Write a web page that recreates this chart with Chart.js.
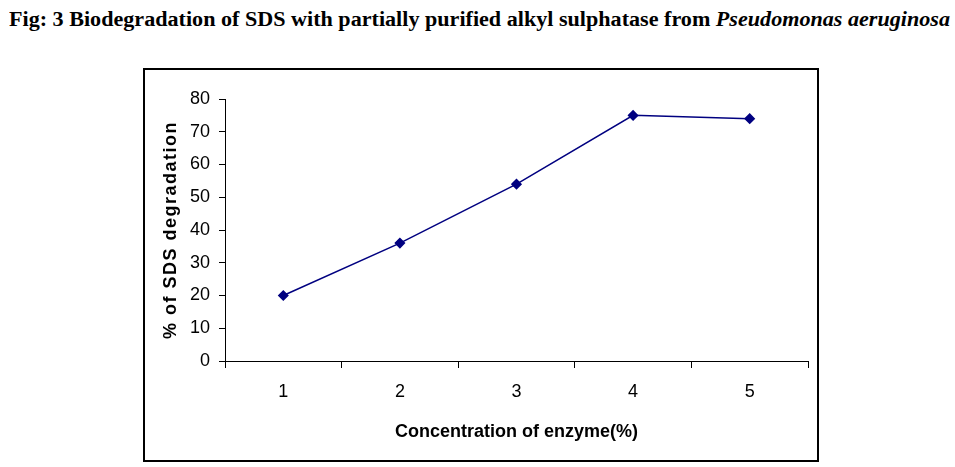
<!DOCTYPE html>
<html>
<head>
<meta charset="utf-8">
<script src="https://cdn.jsdelivr.net/npm/chart.js@4.4.1/dist/chart.umd.min.js"></script>
<style>
  html, body { margin: 0; padding: 0; background: #fff; }
  body { width: 955px; height: 467px; position: relative; overflow: hidden; }
  #figTitle {
    position: absolute; left: 9px; top: 9px;
    font: bold 20px 'Liberation Serif', 'Times New Roman', serif;
    line-height: 20px; white-space: nowrap; color: #000;
    transform-origin: 0 0;
  }
  #chartBox {
    position: absolute; left: 143px; top: 68px; width: 676px; height: 394px;
    border: 2px solid #000; box-sizing: border-box;
  }
  #chartBox canvas { position: absolute; left: 0; top: 0; }
</style>
</head>
<body>
<div id="figTitle">Fig: 3 Biodegradation of SDS with partially purified alkyl sulphatase from <i>Pseudomonas aeruginosa</i></div>
<div id="chartBox"><canvas id="sdsChart" width="672" height="390"></canvas></div>
<script>
const concentrations = ['1', '2', '3', '4', '5'];
const degradation = [20, 36, 54, 75, 74];
const yTicks = [0, 10, 20, 30, 40, 50, 60, 70, 80];

document.addEventListener('DOMContentLoaded', () => {
  // squeeze the title to the width it has in the figure
  const title = document.getElementById('figTitle');
  const w = title.getBoundingClientRect().width;
  title.style.transform = 'scaleX(' + (941 / w) + ')';

  const axisFont = { family: "'Liberation Sans', Arial, sans-serif", size: 18 };
  const titleFont = { family: "'Liberation Sans', Arial, sans-serif", size: 18, weight: 'bold' };

  // spaced-out lettering on the y axis title
  const spacedTitle = {
    id: 'spacedTitle',
    beforeDraw(chart) {
      const scale = chart.scales.y;
      if (!scale || scale._spaced) return;
      const orig = scale.drawTitle;
      scale.drawTitle = function () {
        this.ctx.save();
        this.ctx.letterSpacing = '1.5px';
        orig.call(this);
        this.ctx.restore();
      };
      scale._spaced = true;
    }
  };

  new Chart(document.getElementById('sdsChart'), {
    type: 'line',
    data: {
      labels: concentrations,
      datasets: [{
        label: '% of SDS degradation',
        data: degradation,
        borderColor: '#000080',
        backgroundColor: '#000080',
        borderWidth: 1.5,
        tension: 0,
        pointStyle: 'rectRot',
        pointRadius: 4.5,
        pointBackgroundColor: '#000080',
        pointBorderColor: '#000080'
      }]
    },
    options: {
      responsive: false,
      animation: false,
      layout: { padding: { top: 29, right: 9, left: 0, bottom: 0 } },
      plugins: {
        legend: { display: false },
        tooltip: { enabled: false }
      },
      scales: {
        x: {
          type: 'category',
          offset: true,
          afterFit: (s) => { s.height = 99; },
          grid: { offset: true, drawOnChartArea: false, drawTicks: true, tickLength: 7, color: '#000' },
          border: { color: '#000', width: 1 },
          ticks: { color: '#000', font: axisFont, padding: 13 },
          title: { display: true, text: 'Concentration of enzyme(%)', color: '#000', font: titleFont, padding: { top: 0, bottom: 17 } }
        },
        y: {
          min: 0,
          max: 80,
          afterFit: (s) => { s.width = 80; },
          afterBuildTicks: (s) => { s.ticks = yTicks.map(v => ({ value: v })); },
          grid: { drawOnChartArea: false, drawTicks: true, tickLength: 6, color: '#000' },
          border: { color: '#000', width: 1 },
          ticks: { color: '#000', font: axisFont, padding: 9 },
          title: { display: true, text: '% of SDS degradation', color: '#000', font: titleFont, padding: { top: 15 } }
        }
      }
    },
    plugins: [spacedTitle]
  });
});
</script>
</body>
</html>
